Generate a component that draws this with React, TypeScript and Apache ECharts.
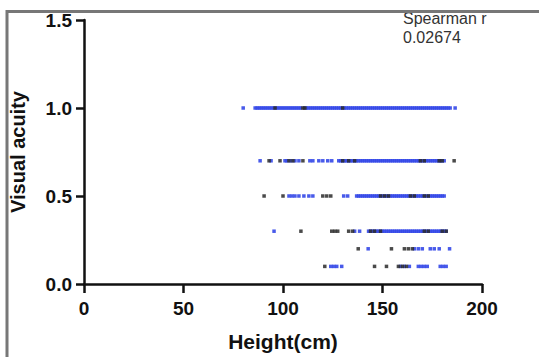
import React, { useEffect, useRef } from "react";
import * as echarts from "echarts";

// Visual acuity levels (y) and heights in cm (x)
const xTicks = [0, 50, 100, 150, 200];
const yTicks = [0, 0.5, 1.0, 1.5];

const blue10 = [80, 86, 87, 88, 89, 90, 91, 92, 93, 94, 95, 96, 97, 98, 99, 100, 101, 102, 103, 104, 105, 106, 107, 108, 109, 111, 112, 113, 114, 115, 116, 117, 118, 119, 120, 121, 122, 123, 124, 125, 126, 127, 128, 129, 130, 131, 132, 133, 134, 135, 136, 137, 138, 139, 140, 141, 142, 143, 144, 145, 146, 147, 148, 149, 150, 151, 152, 153, 154, 155, 156, 157, 158, 159, 160, 161, 162, 163, 164, 165, 166, 167, 168, 169, 170, 171, 172, 173, 174, 175, 176, 177, 178, 179, 180, 181, 182, 183, 184, 186.5];
const black10 = [96, 110, 111, 130];

const blue07 = [88.5, 94, 101, 102, 104, 106, 108, 113.5, 115, 118, 120, 122.5, 124.5, 128, 129, 130, 131, 132, 133, 134, 135, 136, 137, 138, 139, 140, 141, 142, 143, 144, 145, 146, 147, 148, 149, 150, 151, 152, 153, 154, 155, 156, 157, 158, 159, 160, 161, 162, 163, 164, 165, 166, 167, 168, 169, 170, 171, 172, 173, 174, 175, 176, 177, 178, 179, 180, 181];
const black07 = [93, 98.5, 103, 105, 110, 130, 133, 136, 169, 171, 178.5, 180, 186];

const blue05 = [103, 104.5, 106, 108, 110.5, 113, 115, 130.5, 132.5, 137, 138, 139, 140, 141, 142, 143, 144, 145, 146, 147, 148, 149, 150, 151, 152, 153, 154, 155, 156, 157, 158, 159, 160, 161, 162, 163, 164, 165, 166, 167, 168, 169, 170, 171, 172, 173, 174, 175, 176, 177, 178, 179, 180, 181];
const black05 = [90.5, 100, 120, 122, 124, 149, 151, 153, 164, 166, 171, 173];

const blue03 = [95.5, 136, 138.5, 143, 144, 145, 146, 147, 148, 149, 150, 151, 152, 153, 154, 155, 156, 157, 158, 159, 160, 161, 162, 163, 164, 165, 166, 167, 168, 169, 170, 171, 172, 173, 174, 175, 176, 177, 178, 179, 180, 181, 182];
const black03 = [109, 124.5, 126, 127.5, 133, 135, 144, 146, 149, 171, 173, 180, 182];

const blue02 = [142.8, 166, 168, 170, 174, 176, 178.5, 183.7];
const black02 = [137.8, 154.5, 161, 163, 165];

const blue01 = [124, 125.5, 127, 129.5, 159, 161, 163.5, 168, 169.5, 171, 172.5, 179, 180.5, 182];
const black01 = [121, 146, 152, 158, 160, 162];

const blueRows: [number, number[]][] = [
  [1.0, blue10],
  [0.7, blue07],
  [0.5, blue05],
  [0.3, blue03],
  [0.2, blue02],
  [0.1, blue01],
];
const blackRows: [number, number[]][] = [
  [1.0, black10],
  [0.7, black07],
  [0.5, black05],
  [0.3, black03],
  [0.2, black02],
  [0.1, black01],
];

const FONT = "'Liberation Sans', Arial, Helvetica, sans-serif";

export default function App() {
  const ref = useRef<HTMLDivElement>(null);
  useEffect(() => {
    if (!ref.current) return;
    const chart = echarts.init(ref.current, undefined, { renderer: "svg" });
    const toPts = (rows: [number, number[]][]) =>
      rows.flatMap(([y, xs]) => xs.map((x) => [x, y]));
    chart.setOption({
      animation: false,
      backgroundColor: "#fff",
      grid: { left: 81, right: 57, top: 20, bottom: 69, containLabel: false },
      xAxis: {
        type: "value",
        min: xTicks[0],
        max: xTicks[xTicks.length - 1],
        interval: 50,
        name: "Height(cm)",
        nameLocation: "middle",
        nameGap: 47,
        nameTextStyle: { fontFamily: FONT, fontWeight: "bold", fontSize: 21, color: "#111" },
        axisLine: { show: true, onZero: false, lineStyle: { color: "#111", width: 2.5 } },
        axisTick: { show: true, inside: false, length: 9, lineStyle: { color: "#111", width: 2.5 } },
        axisLabel: { margin: 15, fontFamily: FONT, fontWeight: "bold", fontSize: 19, color: "#111" },
        splitLine: { show: false },
      },
      yAxis: {
        type: "value",
        min: yTicks[0],
        max: yTicks[yTicks.length - 1],
        interval: 0.5,
        name: "Visual acuity",
        nameLocation: "middle",
        nameGap: 56,
        nameTextStyle: { fontFamily: FONT, fontWeight: "bold", fontSize: 20, color: "#111" },
        axisLine: { show: true, lineStyle: { color: "#111", width: 2.5 } },
        axisTick: { show: true, inside: false, length: 8, lineStyle: { color: "#111", width: 2.5 } },
        axisLabel: {
          margin: 12,
          fontFamily: FONT,
          fontWeight: "bold",
          fontSize: 19,
          color: "#111",
          formatter: (v: number) => v.toFixed(1),
        },
        splitLine: { show: false },
      },
      series: [
        {
          type: "scatter",
          symbol: "rect",
          symbolSize: 3.5,
          itemStyle: { color: "#3448e8", opacity: 0.9 },
          data: toPts(blueRows),
        },
        {
          type: "scatter",
          symbol: "rect",
          symbolSize: 3.5,
          itemStyle: { color: "#2a2a2a", opacity: 0.85 },
          data: toPts(blackRows),
        },
      ],
      graphic: [
        {
          type: "text",
          left: 403,
          top: 9,
          z: 10,
          style: {
            text: "Spearman r\n0.02674",
            fontFamily: FONT,
            fontSize: 16,
            lineHeight: 19,
            fill: "#333",
          },
        },
        { type: "rect", shape: { x: 0, y: 0, width: 539, height: 10 }, style: { fill: "#fff" }, z: 20 },
        { type: "line", shape: { x1: 7, y1: 11.5, x2: 539, y2: 11.5 }, style: { stroke: "#777", lineWidth: 3 }, z: 21 },
        { type: "line", shape: { x1: 7, y1: 10, x2: 7, y2: 357 }, style: { stroke: "#777", lineWidth: 3 }, z: 21 },
      ],
    });
    return () => chart.dispose();
  }, []);
  return <div ref={ref} style={{ width: 539, height: 357, position: "fixed", left: 0, top: 0 }} />;
}
